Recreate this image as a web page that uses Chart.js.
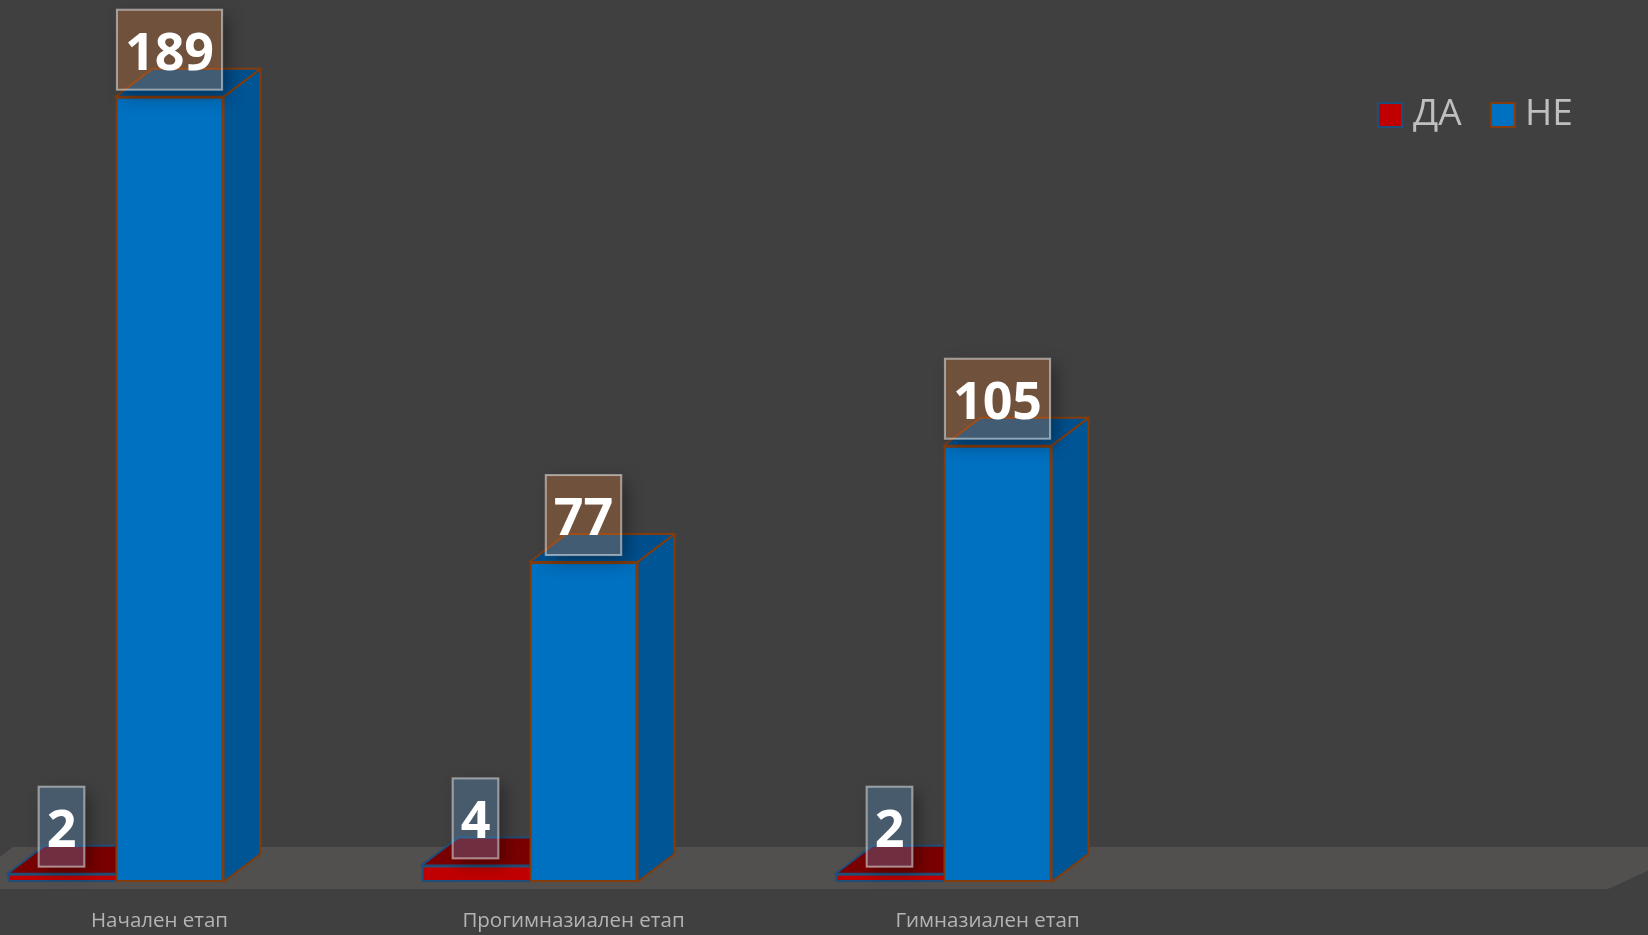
<!DOCTYPE html>
<html><head><meta charset="utf-8">
<style>html,body{margin:0;padding:0;background:#404040;overflow:hidden}canvas{display:block;margin-left:-92px}</style>
<script src="https://cdn.jsdelivr.net/npm/chart.js@4"></script>
</head><body><canvas id="c" width="1740" height="935"></canvas>
<script>
const categories = ['Начален етап', 'Прогимназиален етап', 'Гимназиален етап', ''];
const seriesDa = [2, 4, 2];
const seriesNe = [189, 77, 105];
const seriesNames = ['ДА', 'НЕ'];

const PAGE_X = 92, DEPTH_X = 37, DEPTH_Y = 28;
const styles = [
  {front:'#c00000', top:'#7a0000', side:'#800000', edge:'#1f4e79', box:'rgba(91,155,213,0.30)'},
  {front:'#0070c0', top:'#004f8c', side:'#005595', edge:'#843c0c', box:'rgba(237,125,49,0.28)'}
];

const faces3d = {
  id:'faces3d',
  beforeDatasetsDraw(chart){
    const {ctx, chartArea:a} = chart;
    const t = a.bottom-35, b = a.bottom+7;
    ctx.save();
    ctx.translate(PAGE_X,0);
    ctx.fillStyle = '#524f4f';
    ctx.beginPath();
    ctx.moveTo(13,t); ctx.lineTo(1700,t); ctx.lineTo(1608,b); ctx.lineTo(-40,b); ctx.lineTo(-40,t+40);
    ctx.closePath(); ctx.fill();
    ctx.restore();
  },
  beforeDatasetDraw(chart,args){
    const {ctx} = chart, s = styles[args.index];
    args.meta.data.forEach(bar=>{
      const l = bar.x-bar.width/2, r = bar.x+bar.width/2, t = bar.y, b = bar.base;
      ctx.save();
      if(args.index===0){ // the taller neighbour hides everything right of this bar
        ctx.beginPath(); ctx.rect(l-3,0,bar.width+3,935); ctx.clip();
      }
      ctx.lineWidth = 2; ctx.strokeStyle = s.edge; ctx.lineJoin='round';
      ctx.fillStyle = s.side;
      ctx.beginPath(); ctx.moveTo(r,t); ctx.lineTo(r+DEPTH_X,t-DEPTH_Y); ctx.lineTo(r+DEPTH_X,b-DEPTH_Y); ctx.lineTo(r,b); ctx.closePath(); ctx.fill(); ctx.stroke();
      ctx.fillStyle = s.top;
      ctx.beginPath(); ctx.moveTo(l,t); ctx.lineTo(l+DEPTH_X,t-DEPTH_Y); ctx.lineTo(r+DEPTH_X,t-DEPTH_Y); ctx.lineTo(r,t); ctx.closePath(); ctx.fill(); ctx.stroke();
      ctx.restore();
    });
  },
  afterDatasetsDraw(chart){
    const {ctx} = chart;
    ctx.save();
    ctx.font = 'bold 52px "Open Sans"';
    ctx.textAlign='center'; ctx.textBaseline='alphabetic';
    [0,1].forEach(i=>{
      const meta = chart.getDatasetMeta(i);
      meta.data.forEach((bar,j)=>{
        const txt = String(chart.data.datasets[i].data[j]);
        const w = ctx.measureText(txt).width+16, h = 80;
        const x = bar.x-w/2, y = bar.y-7-h;
        ctx.save();
        ctx.beginPath(); ctx.rect(0,0,1740,935); ctx.rect(x,y,w,h); ctx.clip('evenodd');
        ctx.shadowColor='rgba(0,0,0,0.35)'; ctx.shadowBlur=16; ctx.shadowOffsetX=6; ctx.shadowOffsetY=6;
        ctx.fillStyle='#000'; ctx.fillRect(x,y,w,h);
        ctx.restore();
        ctx.fillStyle = styles[i].box; ctx.fillRect(x,y,w,h);
        ctx.strokeStyle='rgba(255,255,255,0.5)'; ctx.lineWidth=2; ctx.strokeRect(x,y,w,h);
        ctx.fillStyle='#fff';
        ctx.fillText(txt, bar.x, y+h-20);
      });
    });
    ctx.font='37px "Open Sans"'; ctx.textBaseline='middle'; ctx.textAlign='left';
    [[1378,1413],[1491,1525]].forEach((p,i)=>{
      const sx = p[0]+PAGE_X, tx = p[1]+PAGE_X;
      ctx.fillStyle=styles[i].front; ctx.strokeStyle=styles[i].edge; ctx.lineWidth=2;
      ctx.fillRect(sx,103,24,24); ctx.strokeRect(sx,103,24,24);
      ctx.fillStyle='#bfbfbf';
      ctx.fillText(chart.data.datasets[i].label,tx,114);
    });
    ctx.restore();
  }
};

new Chart(document.getElementById('c'),{
  type:'bar',
  data:{labels:categories,datasets:[
    {label:seriesNames[0],data:seriesDa,backgroundColor:styles[0].front,borderColor:styles[0].edge,borderWidth:2,borderSkipped:'right',clip:false},
    {label:seriesNames[1],data:seriesNe,backgroundColor:styles[1].front,borderColor:styles[1].edge,borderWidth:2,borderSkipped:false,clip:false}
  ]},
  plugins:[faces3d],
  options:{
    responsive:false,animation:false,
    layout:{padding:{left:0.5,right:83.5,top:51,bottom:0}},
    datasets:{bar:{categoryPercentage:216/414,barPercentage:1}},
    plugins:{legend:{display:false},tooltip:{enabled:false}},
    scales:{
      x:{grid:{display:false},border:{display:false},
        afterFit(s){s.height=53;},
        ticks:{color:'#b4b4b4',font:{family:'"Open Sans"',size:20.5},labelOffset:44,padding:19,maxRotation:0,autoSkip:false}},
      y:{display:false,min:0,max:200}
    }
  }
});
</script></body></html>
